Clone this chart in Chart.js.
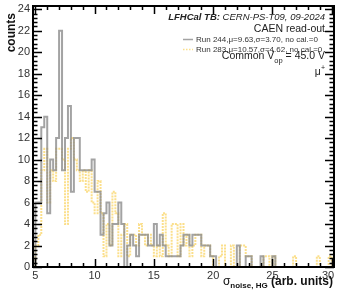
<!DOCTYPE html>
<html>
<head>
<meta charset="utf-8">
<script src="https://cdn.jsdelivr.net/npm/chart.js@4/dist/chart.umd.min.js"></script>
<style>
  html, body { margin: 0; padding: 0; background: #fff; }
</style>
</head>
<body>
<canvas id="noiseChart" width="337" height="290"></canvas>
<script>
// histogram binning (lower edge of first bin, bin width)
const binStart = 5.0;
const binWidth = 0.25;

// Run 244 (grey, solid)
const run244Counts = [
  6, 6, 13, 14, 5, 10, 9, 12, 22, 9,
  12, 15, 7, 12, 12, 9, 9, 9, 9, 10,
  7, 7, 3, 5, 6, 2, 4, 4, 6, 4,
  0, 2, 3, 2, 1, 3, 3, 3, 2, 2,
  4, 2, 3, 2, 1, 1, 1, 1, 1, 2,
  3, 3, 2, 3, 3, 3, 2, 2, 2, 1,
  1, 0, 0, 0, 0, 0, 0, 0, 2, 0,
  0, 1, 1, 0, 0, 0, 1, 0, 0, 0,
  1, 0, 0, 0, 0, 0, 0, 0, 0, 0,
  0, 0, 0, 0, 0, 0, 0, 0, 0, 0
];

// Run 283 (yellow, dotted)
const run283Counts = [
  2, 3, 9, 11, 6, 9, 8, 11, 11, 10,
  4, 11, 12, 10, 9, 8, 9, 7, 9, 6,
  5, 8, 5, 1, 4, 2, 7, 5, 1, 3,
  4, 1, 3, 3, 2, 4, 3, 2, 3, 2,
  1, 2, 1, 5, 2, 1, 4, 4, 1, 4,
  2, 3, 1, 2, 3, 3, 1, 2, 2, 1,
  0, 0, 1, 2, 0, 0, 2, 0, 0, 2,
  2, 1, 1, 0, 0, 0, 0, 1, 1, 0,
  1, 0, 0, 0, 0, 0, 0, 1, 0, 0,
  0, 0, 0, 0, 0, 1, 0, 0, 0, 1
];

const seriesLabels = [
  "Run 244,\u03bc=9.63,\u03c3=3.70, no cal.=0",
  "Run 283,\u03bc=10.57,\u03c3=4.62, no cal.=0"
];

const xTickLabels = [5, 10, 15, 20, 25, 30];
const yTickLabels = [0, 2, 4, 6, 8, 10, 12, 14, 16, 18, 20, 22, 24];

const grey = "rgba(140,140,140,0.8)";
const yellow = "rgba(250,215,110,0.8)";
const FONT = "'Liberation Sans', Arial, sans-serif";

// turn bin counts into step points: (edge, count), opened and closed at zero
function toSteps(counts) {
  const pts = [{ x: binStart, y: 0 }];
  counts.forEach((c, i) => pts.push({ x: binStart + i * binWidth, y: c }));
  pts.push({ x: binStart + counts.length * binWidth, y: 0 });
  return pts;
}

// ROOT-like frame, inward ticks, labels and the text block
const rootFrame = {
  id: "rootFrame",
  afterDraw(chart) {
    const ctx = chart.ctx;
    const a = chart.chartArea;
    const xs = chart.scales.x, ys = chart.scales.y;
    ctx.save();
    ctx.strokeStyle = "#000";
    ctx.lineWidth = 1.5;

    // x ticks (bottom and top), major every 5, minor every 1
    for (let v = 5; v <= 30; v += 1) {
      const px = Math.round(xs.getPixelForValue(v)) + 0.5;
      const len = v % 5 === 0 ? 8 : 4;
      ctx.beginPath();
      ctx.moveTo(px, a.bottom); ctx.lineTo(px, a.bottom - len);
      ctx.moveTo(px, a.top); ctx.lineTo(px, a.top + len);
      ctx.stroke();
    }
    // y ticks (left and right), major every 2, minor every 0.4
    for (let k = 0; k <= 60; k++) {
      const v = k * 0.4;
      const py = Math.round(ys.getPixelForValue(v)) + 0.5;
      const len = k % 5 === 0 ? 9 : 4.5;
      ctx.beginPath();
      ctx.moveTo(a.left, py); ctx.lineTo(a.left + len, py);
      ctx.moveTo(a.right, py); ctx.lineTo(a.right - len, py);
      ctx.stroke();
    }
    // frame
    ctx.lineWidth = 2;
    ctx.strokeRect(a.left, a.top, a.right - a.left, a.bottom - a.top);

    // tick labels
    ctx.fillStyle = "#333";
    ctx.font = "11px " + FONT;
    ctx.textAlign = "center";
    ctx.textBaseline = "middle";
    xTickLabels.forEach(v => ctx.fillText(String(v), Math.min(xs.getPixelForValue(v), 328), 275.5));
    ctx.textAlign = "right";
    yTickLabels.forEach(v => ctx.fillText(String(v), a.left - 3, ys.getPixelForValue(v)));

    // y title
    ctx.save();
    ctx.translate(12, a.top + 7);
    ctx.rotate(-Math.PI / 2);
    ctx.fillStyle = "#111";
    ctx.font = "bold 12px " + FONT;
    ctx.textAlign = "right";
    ctx.textBaseline = "middle";
    ctx.fillText("counts", 0, 0);
    ctx.restore();

    // x title: sigma_{noise, HG} (arb. units), right aligned
    ctx.fillStyle = "#111";
    ctx.textBaseline = "alphabetic";
    ctx.textAlign = "left";
    const t1 = "\u03c3", t2 = "noise, HG", t3 = " (arb. units)";
    ctx.font = "12px " + FONT; const w1 = ctx.measureText(t1).width;
    ctx.font = "bold 8px " + FONT; const w2 = ctx.measureText(t2).width;
    ctx.font = "bold 12px " + FONT; const w3 = ctx.measureText(t3).width;
    let tx = a.right - 1 - (w1 + w2 + w3);
    const ty = 287;
    ctx.font = "12px " + FONT; ctx.fillText(t1, tx, ty - 2); tx += w1;
    ctx.font = "bold 8px " + FONT; ctx.fillText(t2, tx, ty + 1); tx += w2;
    ctx.font = "bold 12px " + FONT; ctx.fillText(t3, tx, ty - 2);

    // header text block
    const rx = 325;
    ctx.fillStyle = "#222";
    ctx.textBaseline = "middle";
    const h1 = "LFHCal TB:", h2 = " CERN-PS-T09, 09-2024";
    ctx.font = "italic 9.5px " + FONT; const wh2 = ctx.measureText(h2).width;
    ctx.font = "bold italic 9.5px " + FONT; const wh1 = ctx.measureText(h1).width;
    ctx.textAlign = "left";
    ctx.fillText(h1, rx - wh1 - wh2, 17.5);
    ctx.font = "italic 9.5px " + FONT;
    ctx.fillText(h2, rx - wh2, 17.5);
    ctx.textAlign = "right";
    ctx.font = "10.5px " + FONT;
    ctx.fillText("CAEN read-out", rx, 29.5);

    // legend entries
    const legendY = [39.5, 49.5];
    const styles = [
      { color: grey, dash: [] },
      { color: yellow, dash: [1.5, 1.5] }
    ];
    ctx.textAlign = "left";
    ctx.font = "8px " + FONT;
    seriesLabels.forEach((lab, i) => {
      ctx.save();
      ctx.strokeStyle = styles[i].color;
      ctx.lineWidth = 1.5;
      ctx.setLineDash(styles[i].dash);
      ctx.beginPath();
      ctx.moveTo(183, legendY[i]); ctx.lineTo(193, legendY[i]);
      ctx.stroke();
      ctx.restore();
      ctx.fillStyle = "#333";
      ctx.fillText(lab, 196, legendY[i]);
    });

    // Common V_op = 45.0 V
    ctx.fillStyle = "#222";
    const c1 = "Common V", c2 = "op", c3 = " = 45.0 V";
    ctx.font = "10.5px " + FONT; const wc1 = ctx.measureText(c1).width, wc3 = ctx.measureText(c3).width;
    ctx.font = "7.5px " + FONT; const wc2 = ctx.measureText(c2).width;
    let cx = rx - wc1 - wc2 - wc3;
    ctx.font = "10.5px " + FONT; ctx.fillText(c1, cx, 56.5); cx += wc1;
    ctx.font = "7.5px " + FONT; ctx.fillText(c2, cx, 60.5); cx += wc2;
    ctx.font = "10.5px " + FONT; ctx.fillText(c3, cx, 56.5);

    // particle
    ctx.textAlign = "right";
    ctx.font = "7px " + FONT;
    const wp = ctx.measureText("+").width;
    ctx.fillText("+", rx, 68);
    ctx.font = "10.5px " + FONT;
    ctx.fillText("\u03bc", rx - wp, 72);
    ctx.restore();
  }
};

new Chart(document.getElementById("noiseChart").getContext("2d"), {
  type: "line",
  data: {
    datasets: [
      {
        label: seriesLabels[0],
        data: toSteps(run244Counts),
        borderColor: grey,
        borderWidth: 2,
        stepped: true,
        pointRadius: 0,
        fill: false
      },
      {
        label: seriesLabels[1],
        data: toSteps(run283Counts),
        borderColor: yellow,
        borderWidth: 2,
        borderDash: [2, 1],
        stepped: true,
        pointRadius: 0,
        fill: false
      }
    ]
  },
  options: {
    responsive: false,
    animation: false,
    devicePixelRatio: 1,
    layout: { padding: { left: 33, right: 3, top: 6, bottom: 23 } },
    scales: {
      x: { type: "linear", min: 4.8, max: 30.2, display: false },
      y: { type: "linear", min: 0, max: 24.3, display: false }
    },
    plugins: {
      legend: { display: false },
      tooltip: { enabled: false }
    }
  },
  plugins: [rootFrame]
});
</script>
</body>
</html>
